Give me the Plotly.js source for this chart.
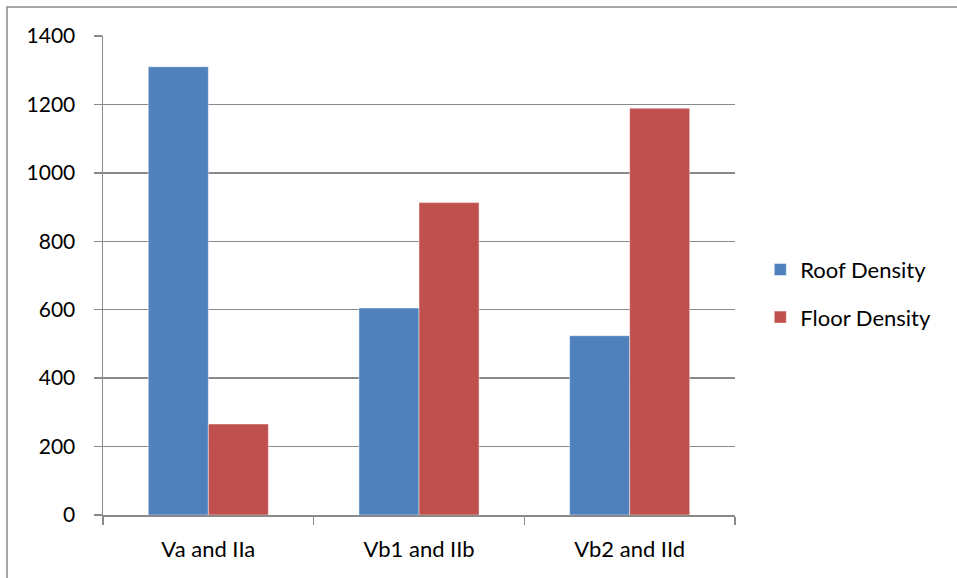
<!DOCTYPE html>
<html>
<head>
<meta charset="utf-8">
<script src="https://cdn.plot.ly/plotly-3.0.1.min.js"></script>
<style>
  html, body { margin: 0; padding: 0; background: #fff; }
  #chart { width: 957px; height: 578px; }
</style>
</head>
<body>
<div id="chart"></div>
<script>
// Density by sample pair
const categories = ["Va and IIa", "Vb1 and IIb", "Vb2 and IId"];
const roofDensity = [1310, 605, 524];
const floorDensity = [266, 913, 1189];
const yTicks = [0, 200, 400, 600, 800, 1000, 1200, 1400];

const FONT = "Lato, 'Open Sans', 'Liberation Sans', sans-serif";
const GRID = "#8a8a8a";

const traces = [
  {
    type: "bar",
    name: "Roof Density",
    x: categories,
    y: roofDensity,
    legendgroup: "roof",
    marker: { color: "#4F81BD", line: { color: "rgba(255,255,255,0.45)", width: 1 } },
    hoverinfo: "x+y+name"
  },
  {
    type: "bar",
    name: "Floor Density",
    x: categories,
    y: floorDensity,
    legendgroup: "floor",
    marker: { color: "#C0504D", line: { color: "rgba(255,255,255,0.45)", width: 1 } },
    hoverinfo: "x+y+name"
  }
];

const layout = {
  width: 957,
  height: 578,
  margin: { l: 103, r: 222, t: 36, b: 62.5 },
  paper_bgcolor: "#fff",
  plot_bgcolor: "#fff",
  font: { family: FONT, size: 21, color: "#000" },
  barmode: "group",
  bargap: 0.43,
  bargroupgap: 0,
  showlegend: true,
  legend: {
    x: 1.04,
    y: 0.462,
    xanchor: "left",
    yanchor: "middle",
    traceorder: "grouped",
    tracegroupgap: 16,
    font: { family: FONT, size: 22, color: "#000" },
    bgcolor: "rgba(0,0,0,0)"
  },
  xaxis: {
    type: "category",
    tickson: "boundaries",
    ticks: "outside",
    ticklen: 8,
    tickwidth: 1.5,
    tickcolor: GRID,
    showline: true,
    linecolor: GRID,
    linewidth: 1.5,
    showgrid: false,
    zeroline: false,
    tickfont: { family: FONT, size: 22, color: "#000" },
    ticklabelstandoff: 14,
    fixedrange: true
  },
  yaxis: {
    range: [0, 1400],
    tickvals: yTicks,
    ticktext: yTicks.map(String),
    ticks: "outside",
    ticklen: 8,
    tickwidth: 1.5,
    tickcolor: GRID,
    showline: true,
    linecolor: GRID,
    linewidth: 1.5,
    showgrid: true,
    gridcolor: GRID,
    gridwidth: 1.3,
    zeroline: false,
    ticklabelstandoff: 14,
    fixedrange: true
  },
  shapes: [
    {
      // chart frame (top and left edges visible)
      type: "rect",
      xref: "paper",
      yref: "paper",
      x0: (7 - 103) / 632,
      x1: (980 - 103) / 632,
      y0: (515.5 - 600) / 479.5,
      y1: (515.5 - 7) / 479.5,
      line: { color: "#8a8a8a", width: 1.5 },
      fillcolor: "rgba(0,0,0,0)",
      layer: "below"
    }
  ]
};

Plotly.newPlot("chart", traces, layout, { displayModeBar: false, staticPlot: true });
</script>
</body>
</html>
